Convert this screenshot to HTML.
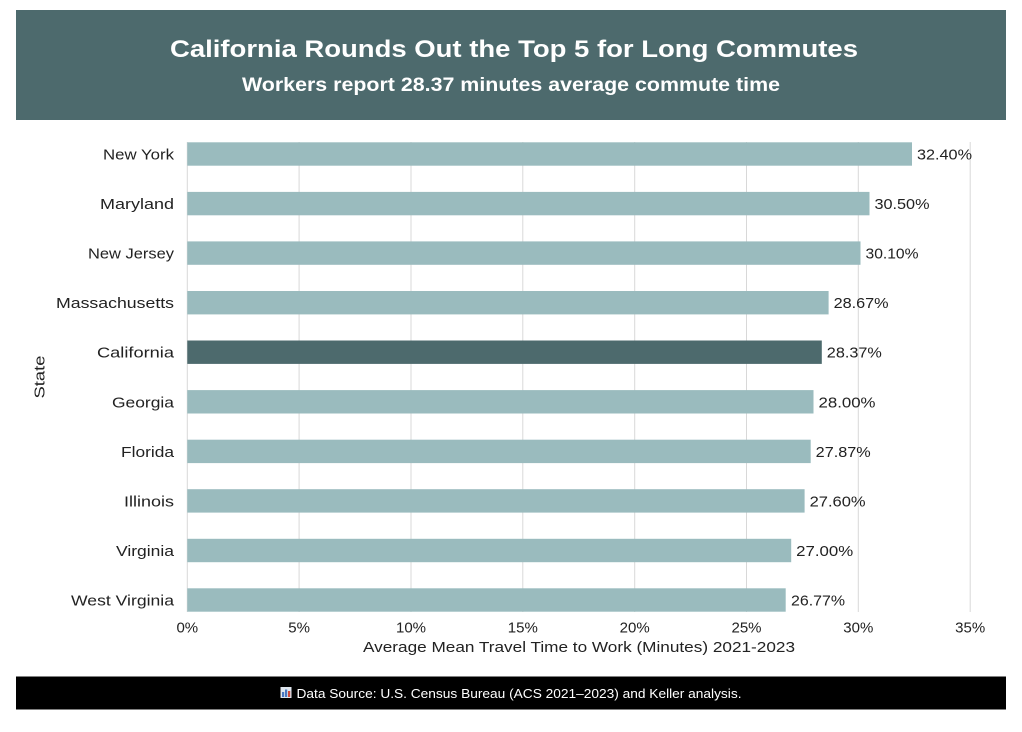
<!DOCTYPE html>
<html>
<head>
<meta charset="utf-8">
<style>
html,body{margin:0;padding:0;background:#fff;}
svg{display:block;}
text{font-family:"Liberation Sans",sans-serif;}
</style>
</head>
<body>
<svg width="1022" height="732" viewBox="0 0 1022 732" xmlns="http://www.w3.org/2000/svg">
<rect x="0" y="0" width="1022" height="732" fill="#ffffff"/>
<!-- Header -->
<rect x="16" y="10" width="990" height="110" fill="#4d6a6d"/>
<text x="514" y="57" font-size="24" font-weight="bold" fill="#ffffff" text-anchor="middle" textLength="688" lengthAdjust="spacingAndGlyphs">California Rounds Out the Top 5 for Long Commutes</text>
<text x="511" y="91" font-size="19" font-weight="bold" fill="#ffffff" text-anchor="middle" textLength="538" lengthAdjust="spacingAndGlyphs">Workers report 28.37 minutes average commute time</text>

<!-- Gridlines -->
<g stroke="#d8d8d8" stroke-width="1">
<line x1="187.3" y1="142" x2="187.3" y2="612"/>
<line x1="299.1" y1="142" x2="299.1" y2="612"/>
<line x1="411.0" y1="142" x2="411.0" y2="612"/>
<line x1="522.8" y1="142" x2="522.8" y2="612"/>
<line x1="634.7" y1="142" x2="634.7" y2="612"/>
<line x1="746.5" y1="142" x2="746.5" y2="612"/>
<line x1="858.3" y1="142" x2="858.3" y2="612"/>
<line x1="970.2" y1="142" x2="970.2" y2="612"/>
</g>

<!-- Bars -->
<g fill="#9abbbe">
<rect x="187.3" y="142.3" width="724.7" height="23.4"/>
<rect x="187.3" y="191.9" width="682.2" height="23.4"/>
<rect x="187.3" y="241.4" width="673.2" height="23.4"/>
<rect x="187.3" y="291.0" width="641.3" height="23.4"/>
<rect x="187.3" y="390.1" width="626.2" height="23.4"/>
<rect x="187.3" y="439.7" width="623.4" height="23.4"/>
<rect x="187.3" y="489.2" width="617.3" height="23.4"/>
<rect x="187.3" y="538.8" width="603.9" height="23.4"/>
<rect x="187.3" y="588.3" width="598.4" height="23.4"/>
</g>
<rect x="187.3" y="340.5" width="634.5" height="23.4" fill="#4d6a6d"/>

<!-- Category labels -->
<g font-size="15" fill="#222" text-anchor="end">
<text x="174" y="159.5" textLength="71" lengthAdjust="spacingAndGlyphs">New York</text>
<text x="174" y="209.1" textLength="74" lengthAdjust="spacingAndGlyphs">Maryland</text>
<text x="174" y="258.6" textLength="86" lengthAdjust="spacingAndGlyphs">New Jersey</text>
<text x="174" y="308.2" textLength="118" lengthAdjust="spacingAndGlyphs">Massachusetts</text>
<text x="174" y="357.7" textLength="77" lengthAdjust="spacingAndGlyphs">California</text>
<text x="174" y="407.3" textLength="62" lengthAdjust="spacingAndGlyphs">Georgia</text>
<text x="174" y="456.9" textLength="53" lengthAdjust="spacingAndGlyphs">Florida</text>
<text x="174" y="506.4" textLength="50" lengthAdjust="spacingAndGlyphs">Illinois</text>
<text x="174" y="556.0" textLength="58" lengthAdjust="spacingAndGlyphs">Virginia</text>
<text x="174" y="605.5" textLength="103" lengthAdjust="spacingAndGlyphs">West Virginia</text>
</g>

<!-- Value labels -->
<g font-size="15" fill="#222">
<text x="917" y="159.5" textLength="55" lengthAdjust="spacingAndGlyphs">32.40%</text>
<text x="874.5" y="209.1" textLength="55" lengthAdjust="spacingAndGlyphs">30.50%</text>
<text x="865.5" y="258.6" textLength="53" lengthAdjust="spacingAndGlyphs">30.10%</text>
<text x="833.6" y="308.2" textLength="55" lengthAdjust="spacingAndGlyphs">28.67%</text>
<text x="826.8" y="357.7" textLength="55" lengthAdjust="spacingAndGlyphs">28.37%</text>
<text x="818.5" y="407.3" textLength="57" lengthAdjust="spacingAndGlyphs">28.00%</text>
<text x="815.7" y="456.9" textLength="55" lengthAdjust="spacingAndGlyphs">27.87%</text>
<text x="809.6" y="506.4" textLength="56" lengthAdjust="spacingAndGlyphs">27.60%</text>
<text x="796.2" y="556.0" textLength="57" lengthAdjust="spacingAndGlyphs">27.00%</text>
<text x="791" y="605.5" textLength="54" lengthAdjust="spacingAndGlyphs">26.77%</text>
</g>

<!-- Tick labels -->
<g font-size="15" fill="#222" text-anchor="middle">
<text x="187.3" y="632.5">0%</text>
<text x="299.1" y="632.5">5%</text>
<text x="411.0" y="632.5">10%</text>
<text x="522.8" y="632.5">15%</text>
<text x="634.7" y="632.5">20%</text>
<text x="746.5" y="632.5">25%</text>
<text x="858.3" y="632.5">30%</text>
<text x="970.2" y="632.5">35%</text>
</g>
<text x="579" y="652" font-size="15" fill="#222" text-anchor="middle" textLength="432" lengthAdjust="spacingAndGlyphs">Average Mean Travel Time to Work (Minutes) 2021-2023</text>
<text transform="translate(44.5,377) rotate(-90)" font-size="15" fill="#222" text-anchor="middle" textLength="43" lengthAdjust="spacingAndGlyphs">State</text>

<!-- Footer -->
<rect x="16" y="676.5" width="990" height="33" fill="#000000"/>
<g>
<rect x="280.5" y="687" width="11" height="11" fill="#dfe6ee"/>
<rect x="282" y="692" width="2.2" height="5" fill="#4a78c0"/>
<rect x="285" y="689.5" width="2.2" height="7.5" fill="#4a78c0"/>
<rect x="288" y="691" width="2.2" height="6" fill="#d04a3c"/>
</g>
<text x="296.5" y="698" font-size="12.5" fill="#ffffff" textLength="445" lengthAdjust="spacingAndGlyphs">Data Source: U.S. Census Bureau (ACS 2021–2023) and Keller analysis.</text>
</svg>
</body>
</html>
